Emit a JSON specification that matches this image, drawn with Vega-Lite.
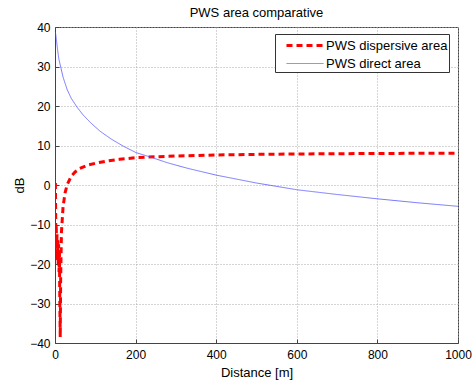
{
  "$schema": "https://vega.github.io/schema/vega-lite/v6.json",
  "autosize": "none",
  "width": 403,
  "height": 316,
  "padding": {"left": 55, "top": 27, "right": 18, "bottom": 39},
  "background": "white",
  "title": {"text": "PWS area comparative", "font": "Liberation Sans", "fontSize": 13, "fontWeight": "normal", "color": "black", "offset": 1},
  "config": {
    "font": "Liberation Sans",
    "view": {"stroke": "#444", "strokeWidth": 1},
    "axis": {"labelFont": "Liberation Sans", "labelFontSize": 12, "labelColor": "black", "titleFont": "Liberation Sans", "titleFontSize": 13, "titleFontWeight": "normal", "titleColor": "black", "domainColor": "#444", "tickColor": "#444", "gridColor": "#aaa", "gridDash": [1, 2], "gridOpacity": 1}
  },
  "data": {"values": [
    {"x": 1, "y": 0.5, "s": "PWS dispersive area"},
    {"x": 2, "y": -12, "s": "PWS dispersive area"},
    {"x": 3, "y": -10, "s": "PWS dispersive area"},
    {"x": 4, "y": -16, "s": "PWS dispersive area"},
    {"x": 5, "y": -12.5, "s": "PWS dispersive area"},
    {"x": 6, "y": -19, "s": "PWS dispersive area"},
    {"x": 7, "y": -14, "s": "PWS dispersive area"},
    {"x": 8, "y": -20, "s": "PWS dispersive area"},
    {"x": 9, "y": -15, "s": "PWS dispersive area"},
    {"x": 10, "y": -22, "s": "PWS dispersive area"},
    {"x": 11, "y": -17, "s": "PWS dispersive area"},
    {"x": 12, "y": -30, "s": "PWS dispersive area"},
    {"x": 13, "y": -38.5, "s": "PWS dispersive area"},
    {"x": 14, "y": -24, "s": "PWS dispersive area"},
    {"x": 16, "y": -12, "s": "PWS dispersive area"},
    {"x": 20, "y": -5.5, "s": "PWS dispersive area"},
    {"x": 25, "y": -2, "s": "PWS dispersive area"},
    {"x": 30, "y": 0, "s": "PWS dispersive area"},
    {"x": 40, "y": 2.2, "s": "PWS dispersive area"},
    {"x": 50, "y": 3.3, "s": "PWS dispersive area"},
    {"x": 60, "y": 4.1, "s": "PWS dispersive area"},
    {"x": 80, "y": 5.0, "s": "PWS dispersive area"},
    {"x": 100, "y": 5.5, "s": "PWS dispersive area"},
    {"x": 130, "y": 6.1, "s": "PWS dispersive area"},
    {"x": 160, "y": 6.5, "s": "PWS dispersive area"},
    {"x": 200, "y": 6.9, "s": "PWS dispersive area"},
    {"x": 250, "y": 7.15, "s": "PWS dispersive area"},
    {"x": 300, "y": 7.35, "s": "PWS dispersive area"},
    {"x": 400, "y": 7.6, "s": "PWS dispersive area"},
    {"x": 500, "y": 7.75, "s": "PWS dispersive area"},
    {"x": 600, "y": 7.85, "s": "PWS dispersive area"},
    {"x": 700, "y": 7.92, "s": "PWS dispersive area"},
    {"x": 800, "y": 7.98, "s": "PWS dispersive area"},
    {"x": 900, "y": 8.02, "s": "PWS dispersive area"},
    {"x": 1000, "y": 8.06, "s": "PWS dispersive area"},
    {"x": 1, "y": 38.6, "s": "PWS direct area"},
    {"x": 2, "y": 38.0, "s": "PWS direct area"},
    {"x": 4, "y": 36.3, "s": "PWS direct area"},
    {"x": 6, "y": 34.6, "s": "PWS direct area"},
    {"x": 8, "y": 33.0, "s": "PWS direct area"},
    {"x": 10, "y": 31.7, "s": "PWS direct area"},
    {"x": 15, "y": 29.5, "s": "PWS direct area"},
    {"x": 20, "y": 27.3, "s": "PWS direct area"},
    {"x": 30, "y": 24.2, "s": "PWS direct area"},
    {"x": 40, "y": 22.0, "s": "PWS direct area"},
    {"x": 54, "y": 19.8, "s": "PWS direct area"},
    {"x": 70, "y": 17.7, "s": "PWS direct area"},
    {"x": 90, "y": 15.6, "s": "PWS direct area"},
    {"x": 112, "y": 13.6, "s": "PWS direct area"},
    {"x": 140, "y": 11.6, "s": "PWS direct area"},
    {"x": 170, "y": 9.8, "s": "PWS direct area"},
    {"x": 201, "y": 8.2, "s": "PWS direct area"},
    {"x": 236, "y": 7.1, "s": "PWS direct area"},
    {"x": 280, "y": 5.6, "s": "PWS direct area"},
    {"x": 330, "y": 4.2, "s": "PWS direct area"},
    {"x": 400, "y": 2.5, "s": "PWS direct area"},
    {"x": 500, "y": 0.5, "s": "PWS direct area"},
    {"x": 600, "y": -1.2, "s": "PWS direct area"},
    {"x": 700, "y": -2.4, "s": "PWS direct area"},
    {"x": 800, "y": -3.5, "s": "PWS direct area"},
    {"x": 900, "y": -4.5, "s": "PWS direct area"},
    {"x": 1000, "y": -5.4, "s": "PWS direct area"}
  ]},
  "mark": {"type": "line", "clip": true},
  "encoding": {
    "x": {"field": "x", "type": "quantitative", "scale": {"domain": [0, 1000], "nice": false}, "axis": {"title": "Distance [m]", "values": [0, 200, 400, 600, 800, 1000], "format": "d", "tickSize": -4, "labelPadding": 10, "titlePadding": 6, "labelFlush": false}},
    "y": {"field": "y", "type": "quantitative", "scale": {"domain": [-40, 40], "nice": false}, "axis": {"title": "dB", "values": [-40, -30, -20, -10, 0, 10, 20, 30, 40], "tickSize": -4, "labelPadding": 9, "titlePadding": 3}},
    "color": {"field": "s", "type": "nominal", "scale": {"domain": ["PWS dispersive area", "PWS direct area"], "range": ["#ff0000", "#5555ff"]}, "legend": {"title": null, "orient": "none", "legendX": 220, "legendY": 7, "symbolType": "M0,0H4.11", "symbolSize": 324, "labelFontSize": 13, "labelFont": "Liberation Sans", "labelColor": "black", "strokeColor": "#333", "fillColor": "white", "padding": 1, "rowPadding": 1, "labelOffset": 29, "labelLimit": 300}},
    "strokeDash": {"field": "s", "type": "nominal", "scale": {"domain": ["PWS dispersive area", "PWS direct area"], "range": [[6, 4], [1, 0]]}},
    "strokeWidth": {"field": "s", "type": "nominal", "scale": {"domain": ["PWS dispersive area", "PWS direct area"], "range": [3, 0.8]}}
  }
}
